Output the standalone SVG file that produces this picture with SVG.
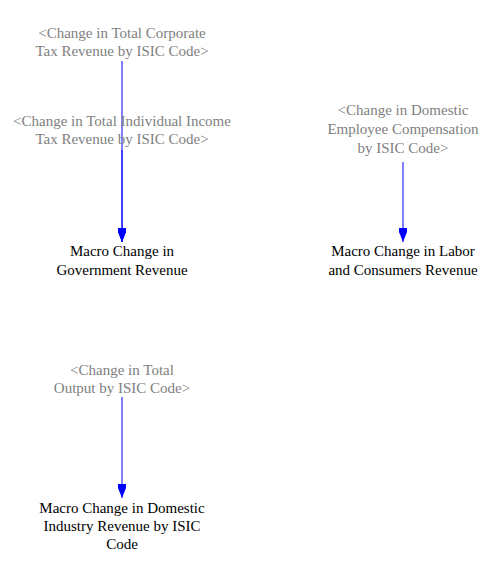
<svg xmlns="http://www.w3.org/2000/svg" width="504" height="576" viewBox="0 0 504 576">
<style>
text{font-family:"Liberation Serif","Times New Roman",serif;font-size:15px;text-anchor:middle}
.sh{fill:#808080}
.v{fill:#000}
.c line{stroke:#0000ff;stroke-width:1;fill:none}
</style>
<defs>
<marker id="ah" viewBox="0 0 14 8" refX="14" refY="4" markerWidth="14" markerHeight="8" markerUnits="userSpaceOnUse" orient="auto">
<path d="M0,0 L4,0 L14,4 L4,8 L0,8 Z" fill="#0000ff"/>
</marker>
</defs>
<rect width="504" height="576" fill="#fff"/>
<g class="c">
<line x1="122" y1="61" x2="122" y2="242" marker-end="url(#ah)"/>
<line x1="122" y1="150" x2="122" y2="242" marker-end="url(#ah)"/>
<line x1="403" y1="162" x2="403" y2="242" marker-end="url(#ah)"/>
<line x1="122" y1="397" x2="122" y2="498" marker-end="url(#ah)"/>
</g>
<g id="corp"><text class="sh" x="122" y="38">&lt;Change in Total Corporate</text><text class="sh" x="122" y="56">Tax Revenue by ISIC Code&gt;</text></g>
<g id="indiv"><text class="sh" x="122" y="126">&lt;Change in Total Individual Income</text><text class="sh" x="122" y="144">Tax Revenue by ISIC Code&gt;</text></g>
<g id="emp"><text class="sh" x="403" y="115">&lt;Change in Domestic</text><text class="sh" x="403" y="134">Employee Compensation</text><text class="sh" x="403" y="153">by ISIC Code&gt;</text></g>
<g id="gov"><text class="v" x="122" y="256">Macro Change in</text><text class="v" x="122" y="275">Government Revenue</text></g>
<g id="labor"><text class="v" x="403" y="256">Macro Change in Labor</text><text class="v" x="403" y="275">and Consumers Revenue</text></g>
<g id="output"><text class="sh" x="122" y="375">&lt;Change in Total</text><text class="sh" x="122" y="393">Output by ISIC Code&gt;</text></g>
<g id="ind"><text class="v" x="122" y="513">Macro Change in Domestic</text><text class="v" x="122" y="531">Industry Revenue by ISIC</text><text class="v" x="122" y="549">Code</text></g>
</svg>
